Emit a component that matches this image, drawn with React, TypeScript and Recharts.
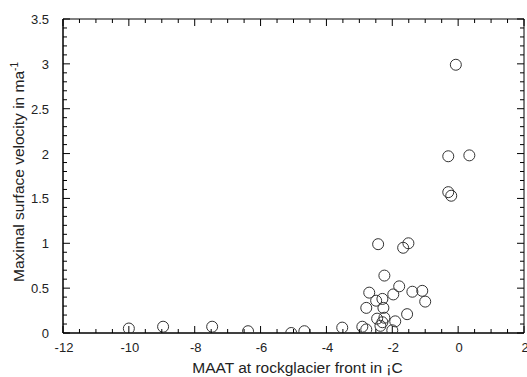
import React from 'react'
import { ScatterChart, Scatter, XAxis, YAxis, Label, ReferenceArea } from 'recharts'

// MAAT (°C) and maximal surface velocity (m/a) for each rock glacier
const maat = [
  -10, -8.96, -7.47, -6.38, -5.07, -4.67, -3.52, -2.91, -2.79, -2.79,
  -2.43, -1.67, -1.51, -2.24, -1.79, -1.39, -1.09, -1.0, -1.97, -2.7,
  -2.49, -2.3, -2.27, -1.55, -2.46, -2.24, -1.91, -2.3, -2.0, -2.36,
  -0.07, -0.3, 0.34, -0.3, -0.21,
]
const velocity = [
  0.05, 0.07, 0.07, 0.02, 0.0, 0.02, 0.06, 0.07, 0.04, 0.28,
  0.99, 0.95, 1.0, 0.64, 0.52, 0.46, 0.47, 0.35, 0.43, 0.45,
  0.36, 0.38, 0.28, 0.21, 0.16, 0.17, 0.13, 0.12, 0.03, 0.08,
  2.99, 1.97, 1.98, 1.57, 1.53,
]

const xTicks = [-12, -11.5, -11, -10.5, -10, -9.5, -9, -8.5, -8, -7.5, -7, -6.5, -6, -5.5, -5, -4.5, -4, -3.5, -3, -2.5, -2, -1.5, -1, -0.5, 0, 0.5, 1, 1.5, 2]
const yTicks = [
  0, 0.1, 0.2, 0.3, 0.4, 0.5, 0.6, 0.7, 0.8, 0.9, 1, 1.1, 1.2, 1.3, 1.4, 1.5, 1.6, 1.7,
  1.8, 1.9, 2, 2.1, 2.2, 2.3, 2.4, 2.5, 2.6, 2.7, 2.8, 2.9, 3, 3.1, 3.2, 3.3, 3.4, 3.5,
]
const xLabels = [-12, -10, -8, -6, -4, -2, 0, 2]
const yLabels = [0, 0.5, 1, 1.5, 2, 2.5, 3, 3.5]

const data = maat.map((x, i) => ({ x, y: velocity[i] }))

const W = 527
const H = 377
const M = { top: 19, right: 3, bottom: 0, left: 0 }
const X_AXIS_H = 44
const Y_AXIS_W = 63
const PLOT_W = W - M.left - M.right - Y_AXIS_W
const PLOT_H = H - M.top - M.bottom - X_AXIS_H

const FONT = '"Liberation Sans", Arial, sans-serif'
const INK = '#222'

const isLabel = (list: number[], v: number) => list.some((l) => Math.abs(l - v) < 1e-6)

// bottom ticks point inward; the same tick is mirrored on the top frame edge
function XTick({ x, y, payload }: any) {
  const len = isLabel(xLabels, payload.value) ? 7 : 4
  const top = y - PLOT_H
  return (
    <g>
      <line x1={x} x2={x} y1={y} y2={y - len} stroke="#000" />
      <line x1={x} x2={x} y1={top} y2={top + len} stroke="#000" />
      {len === 7 && (
        <text x={x + 1} y={y + 19} textAnchor="middle" fontSize={13} fontFamily={FONT} fill={INK}>
          {payload.value}
        </text>
      )}
    </g>
  )
}

function YTick({ x, y, payload }: any) {
  const len = isLabel(yLabels, payload.value) ? 7 : 4
  const right = x + PLOT_W
  return (
    <g>
      <line x1={x} x2={x + len} y1={y} y2={y} stroke="#000" />
      <line x1={right} x2={right - len} y1={y} y2={y} stroke="#000" />
      {len === 7 && (
        <text x={x - 14} y={y + 5} textAnchor="end" fontSize={13} fontFamily={FONT} fill={INK}>
          {payload.value}
        </text>
      )}
    </g>
  )
}

const Ring = (props: any) => (
  <circle cx={props.cx} cy={props.cy} r={5.5} fill="none" stroke="#333" strokeWidth={1} />
)

export default function App() {
  return (
    <div style={{ position: 'absolute', left: 0, top: 0 }}>
      <style>{'body{margin:0;overflow:hidden}'}</style>
      <ScatterChart width={W} height={H} margin={M}>
        <XAxis
          type="number"
          dataKey="x"
          domain={[-12, 2]}
          ticks={xTicks}
          interval={0}
          height={X_AXIS_H}
          tickSize={0}
          tickMargin={0}
          tickLine={false}
          axisLine={{ stroke: '#000' }}
          tick={<XTick />}
          allowDataOverflow
        >
          <Label
            content={({ viewBox }: any) => (
              <text
                x={viewBox.x + viewBox.width / 2 + 4}
                y={viewBox.y + 40}
                textAnchor="middle"
                fontSize={15.5}
                fontFamily={FONT}
                fill={INK}
              >
                MAAT at rockglacier front in ¡C
              </text>
            )}
          />
        </XAxis>
        <YAxis
          type="number"
          dataKey="y"
          domain={[0, 3.5]}
          ticks={yTicks}
          interval={0}
          width={Y_AXIS_W}
          tickSize={0}
          tickMargin={0}
          tickLine={false}
          axisLine={{ stroke: '#000' }}
          tick={<YTick />}
          allowDataOverflow
        >
          <Label
            content={() => {
              const cx = 24
              const cy = 172
              return (
                <text
                  x={cx}
                  y={cy}
                  transform={`rotate(-90 ${cx} ${cy})`}
                  textAnchor="middle"
                  fontSize={15.5}
                  fontFamily={FONT}
                  fill={INK}
                >
                  Maximal surface velocity in ma
                  <tspan fontSize={10} dy={-6}>-1</tspan>
                </text>
              )
            }}
          />
        </YAxis>
        <ReferenceArea x1={-12} x2={2} y1={0} y2={3.5} fill="none" stroke="#000" ifOverflow="visible" />
        <Scatter data={data} shape={<Ring />} isAnimationActive={false} />
      </ScatterChart>
    </div>
  )
}
